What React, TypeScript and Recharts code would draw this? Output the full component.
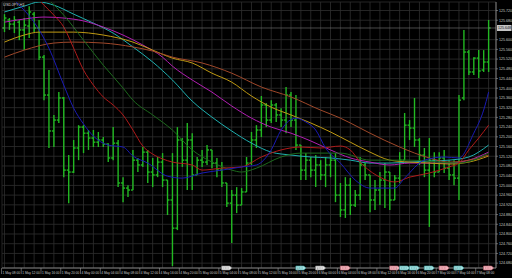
import React from "react";
import {
  ComposedChart,
  Bar,
  Line,
  XAxis,
  YAxis,
  CartesianGrid,
  ReferenceLine,
  ReferenceDot,
} from "recharts";

// hourly OHLC bars
const highs = [
  125.705, 125.689, 125.697, 125.681, 125.689, 125.738, 125.714, 125.681, 125.537, 125.475,
  125.29, 125.384, 125.364, 125.125, 125.187, 125.248, 125.248, 125.228, 125.228, 125.22,
  125.199, 125.174, 125.24, 125.187, 125.034, 125.001, 125.146, 125.113, 125.158, 125.146,
  125.113, 125.117, 125.133, 125.022, 125.133, 125.24, 125.195, 125.257, 125.215, 125.117,
  125.146, 125.166, 125.146, 125.113, 125.096, 125.01, 124.981, 124.993, 124.989, 125.117,
  125.22, 125.248, 125.368, 125.339, 125.351, 125.339, 125.318, 125.405, 125.384, 125.372,
  125.166, 125.133, 125.117, 125.125, 125.104, 125.117, 125.133, 125.133, 125.01, 125.034,
  125.03, 124.981, 125.117, 125.092, 125.043, 125.022, 125.055, 125.092, 125.055, 125.043,
  125.137, 125.298, 125.269, 125.36, 125.195, 125.154, 125.195, 125.137, 125.137, 125.146,
  125.104, 125.104, 125.372, 125.64, 125.557, 125.528, 125.557, 125.557, 125.681,
];
const lows = [
  125.631, 125.64, 125.627, 125.598, 125.557, 125.607, 125.631, 125.516, 125.351, 125.154,
  125.158, 125.257, 125.034, 124.927, 125.051, 125.104, 125.133, 125.146, 125.158, 125.158,
  125.158, 125.096, 125.104, 124.993, 124.931, 124.952, 124.981, 125.055, 125.076, 125.01,
  124.993, 125.034, 124.993, 124.878, 124.668, 124.816, 125.076, 124.981, 124.981, 125.043,
  125.076, 125.084, 125.071, 125.034, 124.993, 124.911, 124.763, 124.886, 124.919, 124.973,
  125.084, 125.154, 125.199, 125.24, 125.257, 125.261, 125.24, 125.215, 125.24, 125.146,
  125.022, 125.022, 125.034, 124.993, 125.022, 124.993, 125.034, 124.931, 124.87, 124.866,
  124.878, 124.911, 124.94, 125.022, 124.89, 124.899, 124.919, 124.907, 124.899, 124.94,
  125.01, 125.104, 125.187, 125.158, 125.084, 125.034, 124.829, 125.034, 125.055, 125.051,
  125.022, 125.001, 124.94, 125.351, 125.454, 125.454, 125.442, 125.467, 125.467,
];
const opens = [
  125.648, 125.681, 125.664, 125.672, 125.64, 125.656, 125.705, 125.648, 125.528, 125.372,
  125.224, 125.269, 125.36, 125.063, 125.055, 125.154, 125.24, 125.215, 125.195, 125.178,
  125.187, 125.17, 125.113, 125.174, 125.01, 124.989, 124.981, 125.104, 125.084, 125.137,
  125.055, 125.043, 125.096, 125.022, 124.94, 124.824, 125.187, 125.104, 125.187, 125.043,
  125.104, 125.096, 125.146, 125.092, 125.063, 125.01, 124.927, 124.96, 124.919, 124.973,
  125.092, 125.187, 125.228, 125.331, 125.269, 125.331, 125.29, 125.269, 125.372, 125.269,
  125.166, 125.063, 125.104, 125.063, 125.084, 125.043, 125.084, 125.104, 124.96, 124.899,
  125.001, 124.919, 124.96, 125.084, 125.043, 124.94, 124.981, 125.022, 125.055, 124.94,
  125.03, 125.104, 125.248, 125.236, 125.187, 125.125, 125.063, 125.104, 125.055, 125.113,
  125.071, 125.043, 125.03, 125.36, 125.549, 125.467, 125.524, 125.475, 125.508,
];
const closes = [
  125.689, 125.664, 125.681, 125.64, 125.66, 125.714, 125.648, 125.528, 125.372, 125.224,
  125.269, 125.36, 125.063, 125.055, 125.154, 125.24, 125.215, 125.195, 125.178, 125.187,
  125.17, 125.113, 125.174, 125.01, 124.989, 124.981, 125.104, 125.084, 125.137, 125.055,
  125.043, 125.096, 125.022, 124.94, 124.824, 125.187, 125.104, 125.187, 125.043, 125.104,
  125.096, 125.146, 125.092, 125.063, 125.01, 124.927, 124.96, 124.919, 124.973, 125.092,
  125.187, 125.228, 125.331, 125.269, 125.331, 125.29, 125.269, 125.372, 125.269, 125.166,
  125.063, 125.104, 125.063, 125.084, 125.043, 125.084, 125.104, 124.96, 124.899, 125.001,
  124.919, 124.96, 125.084, 125.043, 124.94, 124.981, 125.022, 125.055, 124.94, 125.03,
  125.104, 125.248, 125.236, 125.187, 125.125, 125.063, 125.104, 125.055, 125.113, 125.071,
  125.043, 125.03, 125.351, 125.549, 125.467, 125.524, 125.471, 125.508, 125.648,
];

// one label every 4 bars
const timeLabels = [
  "1 May 08:00", "1 May 12:00", "1 May 16:00", "1 May 20:00",
  "4 May 00:00", "4 May 04:00", "4 May 08:00", "4 May 12:00", "4 May 16:00", "4 May 20:00",
  "5 May 00:00", "5 May 04:00", "5 May 08:00", "5 May 12:00", "5 May 16:00", "5 May 20:00",
  "6 May 00:00", "6 May 04:00", "6 May 08:00", "6 May 12:00", "6 May 16:00", "6 May 20:00",
  "7 May 00:00", "7 May 04:00", "7 May 08:00",
];

const priceTicks = [
  125.72, 125.68, 125.64, 125.6, 125.56, 125.52, 125.48, 125.44, 125.4, 125.36,
  125.32, 125.28, 125.24, 125.2, 125.16, 125.12, 125.08, 125.04, 125.0, 124.96,
  124.92, 124.88, 124.84, 124.8, 124.76, 124.72, 124.68,
];

// moving averages, sampled at [bar, price]
const maTeal: [number, number][] = [
  [0, 125.714], [4, 125.738], [7, 125.755], [10, 125.742], [14, 125.705], [18, 125.668],
  [22, 125.627], [26, 125.57], [30, 125.508], [34, 125.434], [38, 125.347], [42, 125.281],
  [46, 125.224], [50, 125.174], [54, 125.137], [58, 125.125], [62, 125.117], [66, 125.113],
  [70, 125.104], [74, 125.092], [78, 125.092], [82, 125.096], [86, 125.1], [90, 125.104],
  [94, 125.117], [98, 125.166],
];
const maMagenta: [number, number][] = [
  [0, 125.672], [4, 125.685], [8, 125.693], [12, 125.689], [16, 125.677], [20, 125.652],
  [24, 125.619], [28, 125.578], [32, 125.528], [34, 125.491], [38, 125.434], [42, 125.384],
  [46, 125.327], [50, 125.277], [54, 125.24], [58, 125.215], [62, 125.183], [66, 125.146],
  [70, 125.113], [74, 125.096], [78, 125.084], [82, 125.092], [86, 125.092], [90, 125.092],
  [94, 125.104], [98, 125.137],
];
const maGold: [number, number][] = [
  [0, 125.59], [4, 125.619], [7, 125.631], [14, 125.631], [20, 125.619], [26, 125.59],
  [30, 125.557], [34, 125.524], [38, 125.504], [42, 125.462], [46, 125.425], [50, 125.368],
  [54, 125.322], [58, 125.29], [62, 125.257], [66, 125.22], [70, 125.178], [74, 125.137],
  [78, 125.104], [82, 125.096], [86, 125.092], [90, 125.088], [94, 125.096], [98, 125.121],
];
const maBrown: [number, number][] = [
  [0, 125.528], [4, 125.557], [10, 125.586], [14, 125.59], [20, 125.586], [26, 125.57],
  [30, 125.553], [34, 125.528], [40, 125.504], [46, 125.462], [52, 125.405], [58, 125.364],
  [64, 125.31], [68, 125.277], [70, 125.257], [74, 125.215], [80, 125.158], [86, 125.113],
  [90, 125.096], [94, 125.104], [98, 125.125],
];
const maRed: [number, number][] = [
  [7, 125.763], [8, 125.742], [10, 125.701], [12, 125.652], [14, 125.565], [16, 125.475],
  [18, 125.413], [20, 125.364], [22, 125.331], [24, 125.29], [26, 125.228], [28, 125.162],
  [30, 125.129], [32, 125.109], [34, 125.096], [38, 125.084], [40, 125.063], [44, 125.071],
  [48, 125.076], [52, 125.117], [56, 125.146], [60, 125.158], [64, 125.154], [68, 125.162],
  [70, 125.146], [72, 125.096], [76, 125.034], [79, 125.014], [82, 125.034], [86, 125.051],
  [90, 125.076], [92, 125.092], [94, 125.146], [96, 125.195], [98, 125.248],
];
const maGreen: [number, number][] = [
  [9, 125.763], [12, 125.701], [16, 125.598], [20, 125.495], [24, 125.401], [26, 125.351],
  [30, 125.29], [34, 125.228], [38, 125.146], [42, 125.096], [46, 125.063], [48, 125.055],
  [51, 125.071], [56, 125.117], [60, 125.133], [68, 125.133], [74, 125.104], [82, 125.104],
  [88, 125.096], [92, 125.092], [98, 125.133],
];
const maBlue: [number, number][] = [
  [2, 125.763], [3, 125.742], [6, 125.672], [9, 125.565], [12, 125.413], [14, 125.318],
  [16, 125.253], [18, 125.203], [21, 125.166], [24, 125.158], [26, 125.121], [29, 125.092],
  [33, 125.038], [36, 125.03], [40, 125.051], [44, 125.063], [48, 125.076], [51, 125.084],
  [54, 125.146], [56, 125.228], [59, 125.277], [61, 125.261], [63, 125.228], [65, 125.154],
  [68, 125.092], [71, 125.022], [74, 124.989], [79, 124.989], [81, 125.03], [85, 125.104],
  [89, 125.117], [92, 125.113], [95, 125.215], [97, 125.31], [98, 125.384],
];

// calendar events on the time scale: [bar, kind]
const events: [number, string][] = [
  [45, "w"], [60, "c"], [64, "w"], [69, "p"], [79, "p"], [81, "c"],
  [83, "c"], [86, "c"], [89, "p"], [92, "c"], [98, "p"],
];

const SLOTS = 100;
const Y_MIN = 124.66;
const Y_MAX = 125.755;
const FONT = "Liberation Sans, Arial, sans-serif";

const maSeries = [
  { key: "teal", pts: maTeal, color: "#1fb0b0" },
  { key: "magenta", pts: maMagenta, color: "#b21eb2" },
  { key: "gold", pts: maGold, color: "#c09a12" },
  { key: "brown", pts: maBrown, color: "#a0482a" },
  { key: "green", pts: maGreen, color: "#1d6a1d" },
  { key: "red", pts: maRed, color: "#b01a1a" },
  { key: "blue", pts: maBlue, color: "#1a1ab4" },
];

const rows: any[] = Array.from({ length: SLOTS }, (_, i) => {
  const row: any = { i };
  if (i < highs.length) {
    row.range = [lows[i], highs[i]];
    row.high = highs[i];
    row.low = lows[i];
    row.open = opens[i];
    row.close = closes[i];
  }
  return row;
});
maSeries.forEach((s) => s.pts.forEach(([i, v]) => (rows[i][s.key] = v)));

const gridTicks = rows.filter((r) => r.i % 2 === 0 && r.i < highs.length).map((r) => r.i);
const lastClose = closes[closes.length - 1];
// the bid box hides the grid label it sits on
const shownPriceTicks = priceTicks.filter((p) => Math.abs(p - lastClose) > 0.015);

function OhlcShape(props: any) {
  const { x, y, width, height, payload } = props;
  if (!payload || payload.open == null) return null;
  const top = Math.min(y, y + height);
  const h = Math.abs(height);
  const span = payload.high - payload.low || 1;
  const yOf = (v: number) => top + ((payload.high - v) / span) * h;
  const cx = x + width / 2;
  return (
    <g stroke="#22b822" strokeWidth={1.4}>
      <line x1={cx} x2={cx} y1={top} y2={top + h} />
      <line x1={cx - 2} x2={cx} y1={yOf(payload.open)} y2={yOf(payload.open)} />
      <line x1={cx} x2={cx + 2} y1={yOf(payload.close)} y2={yOf(payload.close)} />
    </g>
  );
}

function TimeTick(props: any) {
  const { x, y, payload } = props;
  const i = payload.value;
  if (i % 4 !== 0) return null;
  return (
    <g>
      <line x1={x - 3} x2={x - 3} y1={y} y2={y + 6} stroke="#9a9a9a" strokeWidth={0.6} />
      <text x={x - 2} y={y + 6} fontSize={3.2} fill="#c8c8c8" fontFamily={FONT}>
        {timeLabels[i / 4]}
      </text>
    </g>
  );
}

function PriceTick(props: any) {
  const { x, y, payload } = props;
  return (
    <text x={x + 1} y={y + 1.3} fontSize={3.6} fill="#c8c8c8" fontFamily={FONT}>
      {payload.value.toFixed(3)}
    </text>
  );
}

const markerColors: Record<string, [string, string]> = {
  w: ["#e6e6e6", "#8a8a8a"],
  c: ["#a8e2e2", "#3a9a9a"],
  p: ["#f2b8c0", "#b85a68"],
};

function EventMarker(props: any) {
  const { cx, cy, kind } = props;
  const [fill, edge] = markerColors[kind];
  return (
    <g>
      <path
        d={`M${cx - 5},${cy - 2} L${cx + 3},${cy - 2} L${cx + 5},${cy} L${cx + 3},${cy + 2} L${cx - 5},${cy + 2} Z`}
        fill={fill}
        stroke={edge}
        strokeWidth={0.6}
      />
      <line x1={cx - 3.5} x2={cx + 2} y1={cy} y2={cy} stroke={edge} strokeWidth={0.8} strokeDasharray="1 0.6" />
    </g>
  );
}

function BidLabel(props: any) {
  const { viewBox, value } = props;
  const x = viewBox.x + viewBox.width + 1;
  const y = viewBox.y;
  return (
    <g>
      <rect x={x} y={y - 3} width={14.5} height={6} fill="#c4c4c4" />
      <text x={x + 1} y={y + 1.3} fontSize={3.6} fill="#111" fontFamily={FONT}>
        {value}
      </text>
    </g>
  );
}

export default function App() {
  return (
    <div style={{ position: "absolute", left: 0, top: 0, width: 512, height: 278, background: "#000" }}>
      <ComposedChart
        width={512}
        height={278}
        data={rows}
        margin={{ top: 2, right: 0, bottom: 0, left: 2 }}
      >
        <CartesianGrid stroke="#2e2e2e" strokeWidth={0.8} />
        <XAxis
          dataKey="i"
          ticks={gridTicks}
          interval={0}
          height={10}
          tick={<TimeTick />}
          tickSize={0}
          tickMargin={0}
          tickLine={false}
          axisLine={{ stroke: "#9a9a9a", strokeWidth: 0.8 }}
        />
        <YAxis
          orientation="right"
          width={16}
          domain={[Y_MIN, Y_MAX]}
          allowDataOverflow
          ticks={shownPriceTicks}
          interval={0}
          tick={<PriceTick />}
          tickSize={2}
          tickMargin={0}
          tickLine={{ stroke: "#9a9a9a", strokeWidth: 0.6 }}
          axisLine={{ stroke: "#9a9a9a", strokeWidth: 0.8 }}
        />
        <Bar dataKey="range" shape={<OhlcShape />} isAnimationActive={false} />
        {maSeries.map((s) => (
          <Line
            key={s.key}
            dataKey={s.key}
            type="monotone"
            stroke={s.color}
            strokeWidth={1}
            dot={false}
            connectNulls
            isAnimationActive={false}
          />
        ))}
        <ReferenceLine
          y={lastClose}
          stroke="#7a7a7a"
          strokeWidth={0.6}
          label={<BidLabel value={lastClose.toFixed(3)} />}
        />
        {events.map(([i, kind], k) => (
          <ReferenceDot
            key={k}
            x={i}
            y={Y_MIN}
            ifOverflow="visible"
            shape={(p: any) => <EventMarker {...p} kind={kind} />}
          />
        ))}
      </ComposedChart>
      <div
        style={{
          position: "absolute",
          left: 3,
          top: 2,
          fontSize: 4,
          color: "#d0d0d0",
          fontFamily: FONT,
          lineHeight: "5px",
        }}
      >
        USDJPY,H1
      </div>
    </div>
  );
}
